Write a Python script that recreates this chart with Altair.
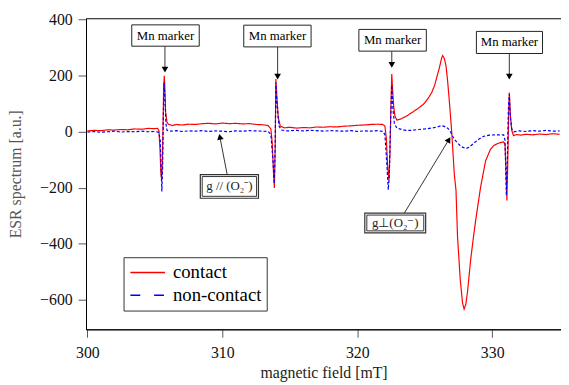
import altair as alt
import pandas as pd

# ---------------- data ----------------
contact_B = [300.0, 300.5, 301.0, 301.5, 302.0, 302.5, 303.0, 303.5, 304.0, 304.5, 305.0, 305.2,
             305.3, 305.38, 305.45, 305.5, 305.55, 305.6, 305.65, 305.7, 305.75, 305.8, 305.9, 306.0,
             306.3, 306.6, 307.0, 307.5, 308.0, 308.5, 309.0, 309.5, 310.0, 310.5, 311.0, 311.5,
             312.0, 312.5, 313.0, 313.4, 313.6, 313.7, 313.8, 313.86, 313.92, 313.97, 314.05, 314.15,
             314.3, 314.6, 315.0, 315.5, 316.0, 316.5, 317.0, 317.5, 318.0, 318.5, 319.0, 319.5,
             320.0, 320.5, 321.0, 321.5, 321.9, 322.05, 322.15, 322.25, 322.35, 322.42, 322.5, 322.56,
             322.62, 322.7, 322.8, 322.93, 323.2, 323.5, 323.78, 324.1, 324.5, 324.9, 325.24, 325.5,
             325.73, 325.9, 326.09, 326.25, 326.33, 326.45, 326.58, 326.7, 326.83, 327.0, 327.19, 327.32,
             327.43, 327.63, 327.8, 327.92, 328.05, 328.17, 328.41, 328.6, 328.78, 329.14, 329.51, 329.87,
             330.1, 330.36, 330.6, 330.85, 330.95, 331.02, 331.09, 331.15, 331.22, 331.27, 331.35, 331.45,
             331.58, 331.8, 332.1, 332.5, 333.0, 333.5, 334.0, 334.5, 335.0]
contact_v = [3, 5, 4, 7, 6, 8, 7, 10, 9, 12, 11, 12,
             5, -60, -150, -170, -120, 0, 150, 200, 150, 70, 35, 27,
             22, 26, 24, 27, 26, 29, 30, 28, 31, 29, 30, 28,
             29, 26, 25, 22, 10, -40, -150, -201, -60, 188, 120, 50,
             20, 14, 16, 13, 15, 14, 17, 16, 18, 17, 20, 21,
             23, 24, 26, 27, 26, 20, -20, -120, -174, -80, 100, 206,
             150, 90, 55, 42, 45, 52, 60, 70, 83, 98, 118, 138,
             165, 195, 229, 262, 272, 262, 235, 180, 106, 1, -150, -210,
             -373, -525, -610, -633, -615, -572, -455, -380, -315, -198, -104, -63,
             -50, -43, -39, -36, -45, -130, -245, -120, 60, 140, 60, 5,
             -14, -10, -12, -9, -11, -8, -10, -7, -9]

noncontact_B = [300.0, 300.5, 301.0, 301.5, 302.0, 302.5, 303.0, 303.5, 304.0, 304.5, 305.0, 305.3,
                305.4, 305.45, 305.52, 305.58, 305.63, 305.68, 305.75, 305.82, 305.9, 306.2, 306.6, 307.0,
                307.5, 308.0, 308.5, 309.0, 309.5, 310.0, 310.5, 311.0, 311.5, 312.0, 312.5, 313.0,
                313.4, 313.6, 313.75, 313.85, 313.92, 313.97, 314.05, 314.2, 314.4, 314.8, 315.5, 316.0,
                316.5, 317.0, 317.5, 318.0, 318.5, 319.0, 319.5, 320.0, 320.5, 321.0, 321.5, 321.9,
                322.05, 322.2, 322.3, 322.38, 322.48, 322.56, 322.65, 322.75, 322.93, 323.3, 323.6, 324.02,
                324.5, 325.0, 325.5, 326.0, 326.22, 326.45, 326.7, 326.9, 327.07, 327.25, 327.43, 327.7,
                328.05, 328.3, 328.65, 329.0, 329.39, 329.8, 330.36, 330.85, 330.95, 331.05, 331.12, 331.2,
                331.27, 331.35, 331.45, 331.6, 332.0, 332.5, 333.0, 333.5, 334.0, 334.5, 335.0]
noncontact_v = [-1, 1, -2, 0, 2, -1, 1, 0, 2, 0, 1, -2,
                -30, -100, -213, -120, 50, 176, 120, 30, 5, 2, 4, 1,
                3, 2, 4, 1, 3, 2, 0, 3, 2, 4, 3, 2,
                1, -10, -100, -185, -50, 176, 100, 20, 6, 3, 5, 3,
                5, 4, 2, 4, 3, 2, 4, 1, 3, 2, 4, 1,
                -10, -120, -207, -150, 50, 166, 80, 30, 13, 8, 5, 5,
                8, 10, 13, 18, 22, 19, 13, 2, -16, -30, -40, -53,
                -60, -55, -40, -27, -16, -12, -11, -11, -30, -227, -100, 80,
                135, 50, 10, 0, 3, 1, 4, 2, 5, 2, 3]

series_names = ["contact", "non-contact"]
series_colors = ["#ff0000", "#0000ff"]
x_ticks = [300, 310, 320, 330]
y_ticks = [-600, -400, -200, 0, 200, 400]

# annotation boxes "Mn marker" (data coordinates)
mn_x1 = [303.29, 311.59, 320.12, 328.83]
mn_x2 = [308.29, 316.58, 325.12, 333.73]
mn_y1 = [381.4, 380.3, 365.2, 358.1]
mn_y2 = [305.3, 302.8, 287.7, 279.2]
mn_text_x = [305.79, 314.09, 322.62, 331.28]
mn_text_y = [343.0, 341.5, 326.5, 318.7]
mn_arrow_x = [305.75, 314.10, 322.56, 331.27]
mn_arrow_top = [305.3, 302.8, 287.7, 279.2]
mn_arrow_head = [222.0, 197.0, 239.0, 197.0]

# g-factor annotation boxes (outer + inner rectangle give a double border)
g_labels = ["g // (O₂⁻)", "g⊥(O₂⁻)"]
g_out_x1 = [308.37, 320.56]
g_out_x2 = [312.68, 325.07]
g_out_y1 = [-152.8, -290.3]
g_out_y2 = [-237.4, -360.8]
g_in_x1 = [308.51, 320.71]
g_in_x2 = [312.54, 324.93]
g_in_y1 = [-159.9, -297.3]
g_in_y2 = [-230.4, -353.7]
g_text_x = [310.53, 322.82]
g_text_y = [-195.0, -325.0]
g_line_x1 = [310.36, 323.49]
g_line_y1 = [-152.8, -290.3]
g_line_x2 = [309.82, 326.79]
g_line_y2 = [-18.2, -28.1]
g_head_angle = [349, 31]

# ---------------- tables ----------------
spec = pd.concat([
    pd.DataFrame({"B": contact_B, "v": contact_v, "series": series_names[0]}),
    pd.DataFrame({"B": noncontact_B, "v": noncontact_v, "series": series_names[1]}),
])
mn = pd.DataFrame({"x1": mn_x1, "x2": mn_x2, "y1": mn_y1, "y2": mn_y2,
                   "tx": mn_text_x, "ty": mn_text_y, "ax": mn_arrow_x,
                   "atop": mn_arrow_top, "ahead": mn_arrow_head, "label": ["Mn marker"] * 4})
gb = pd.DataFrame({"label": g_labels, "ox1": g_out_x1, "ox2": g_out_x2, "oy1": g_out_y1, "oy2": g_out_y2,
                   "ix1": g_in_x1, "ix2": g_in_x2, "iy1": g_in_y1, "iy2": g_in_y2,
                   "tx": g_text_x, "ty": g_text_y, "lx1": g_line_x1, "ly1": g_line_y1,
                   "lx2": g_line_x2, "ly2": g_line_y2, "ang": g_head_angle})

FONT = "Liberation Serif"
xs = alt.Scale(domain=[299.9, 335.1], nice=False, zero=False)
ys = alt.Scale(domain=[-705, 405], nice=False, zero=False)

xaxis = alt.Axis(values=x_ticks, title="magnetic field [mT]", grid=False, tickSize=8,
                 labelFontSize=16, labelFont=FONT, labelColor="#111", labelPadding=8,
                 titleFont=FONT, titleFontSize=16, titleFontWeight="normal", titleColor="#222",
                 titleY=49, titleBaseline="alphabetic", domainColor="#000", tickColor="#555",
                 format="d")
yaxis = alt.Axis(values=y_ticks, title="ESR spectrum [a.u.]", grid=False, tickSize=8,
                 labelFontSize=16, labelFont=FONT, labelColor="#111", labelPadding=6,
                 titleFont=FONT, titleFontSize=16, titleFontWeight="normal", titleColor="#555",
                 titleX=-71, titleBaseline="middle", domainColor="#000", tickColor="#555",
                 format="d")

legend = alt.Legend(title=None, orient="none", legendX=38, legendY=242,
                    fillColor="white", strokeColor="#333", padding=5,
                    symbolType="M-1.85,0H1.85", symbolSize=361, symbolStrokeWidth=1.5,
                    symbolOffset=9, symbolOpacity=1,
                    labelFont=FONT, labelFontSize=19, labelColor="#000", labelOffset=15,
                    rowPadding=2)

# visible spectra (no legend of their own)
lines = alt.Chart(spec).mark_line(strokeWidth=1.2, clip=True).encode(
    x=alt.X("B:Q", scale=xs, axis=xaxis),
    y=alt.Y("v:Q", scale=ys, axis=yaxis),
    color=alt.Color("series:N", scale=alt.Scale(domain=series_names, range=series_colors), legend=None),
    strokeDash=alt.StrokeDash("series:N", scale=alt.Scale(domain=series_names, range=[[1, 0], [3, 2]]),
                              legend=None),
    order=alt.Order("B:Q"),
)

# invisible copy that only carries the key (long dashes as in the original key)
legend_layer = alt.Chart(spec).mark_line(opacity=0, strokeWidth=1.5).encode(
    x=alt.X("B:Q", scale=xs, axis=xaxis),
    y=alt.Y("v:Q", scale=ys, axis=yaxis),
    color=alt.Color("series:N", scale=alt.Scale(domain=series_names, range=series_colors), legend=legend),
    strokeDash=alt.StrokeDash("series:N", scale=alt.Scale(domain=series_names, range=[[1, 0], [10, 14]]),
                              legend=legend),
    order=alt.Order("B:Q"),
)

mn_box = alt.Chart(mn).mark_rect(fill="white", stroke="#222", strokeWidth=1).encode(
    x="x1:Q", x2="x2:Q", y="y1:Q", y2="y2:Q")
mn_txt = alt.Chart(mn).mark_text(font=FONT, fontSize=13, color="#000").encode(
    x="tx:Q", y="ty:Q", text="label:N")
mn_line = alt.Chart(mn).mark_rule(color="#333", strokeWidth=1).encode(
    x="ax:Q", y="atop:Q", y2="ahead:Q")
mn_head = alt.Chart(mn).mark_point(shape="triangle-down", filled=True, color="#000", size=45, opacity=1).encode(
    x="ax:Q", y="ahead:Q")

g_line = alt.Chart(gb).mark_rule(color="#333", strokeWidth=1).encode(
    x="lx1:Q", y="ly1:Q", x2="lx2:Q", y2="ly2:Q")
g_head = alt.Chart(gb).mark_point(shape="triangle-up", filled=True, color="#000", size=45, opacity=1).encode(
    x="lx2:Q", y="ly2:Q", angle=alt.Angle("ang:Q", scale=None))
g_outer = alt.Chart(gb).mark_rect(fill="white", stroke="#333", strokeWidth=1.2).encode(
    x="ox1:Q", x2="ox2:Q", y="oy1:Q", y2="oy2:Q")
g_inner = alt.Chart(gb).mark_rect(fill="white", stroke="#333", strokeWidth=1).encode(
    x="ix1:Q", x2="ix2:Q", y="iy1:Q", y2="iy2:Q")
g_txt = alt.Chart(gb).mark_text(font=FONT, fontSize=13, color="#222").encode(
    x="tx:Q", y="ty:Q", text="label:N")

chart = alt.layer(
    lines, legend_layer, mn_line, mn_head, mn_box, mn_txt, g_line, g_head, g_outer, g_inner, g_txt
).resolve_scale(strokeDash="independent", color="independent").properties(
    width=481, height=315,
    autosize=alt.AutoSizeParams(type="none"),
    padding={"left": 79, "top": 8, "right": 0, "bottom": 54},
).configure(font=FONT).configure_view(stroke="#000", strokeWidth=1).configure_axis(domainWidth=1)

chart.save("out.html", embed_options={"renderer": "svg", "actions": False})
